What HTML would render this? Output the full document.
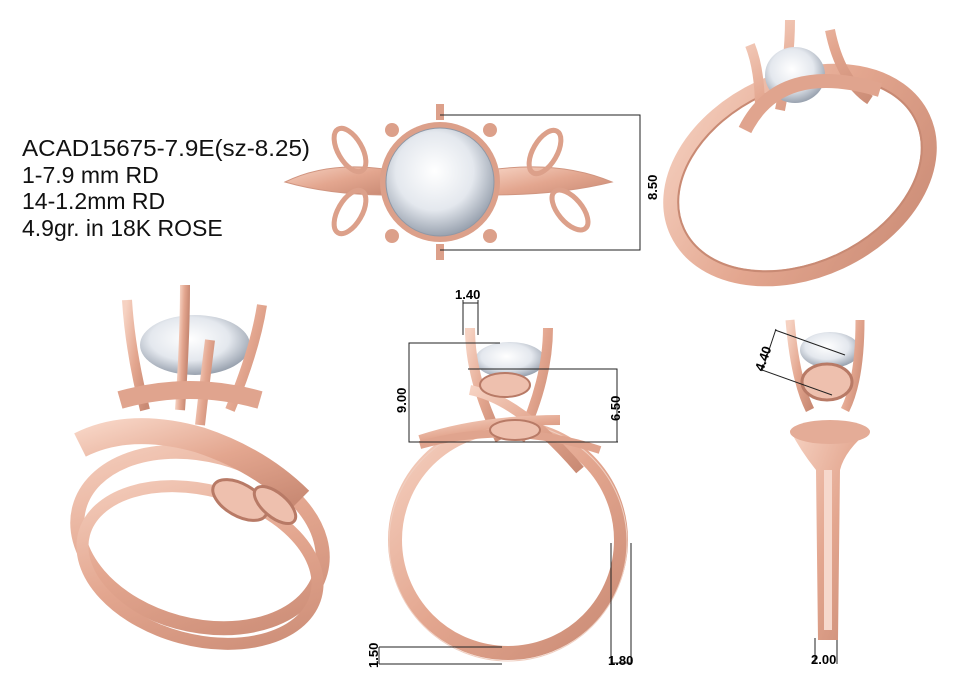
<!DOCTYPE html>
<html><head><meta charset="utf-8"><style>
html,body{margin:0;padding:0;background:#fff;}
svg{display:block}
text{font-family:"Liberation Sans",sans-serif;}
</style></head><body>
<svg width="962" height="689" viewBox="0 0 962 689" xmlns="http://www.w3.org/2000/svg">
<defs>
<linearGradient id="g" x1="0" y1="0" x2="1" y2="1">
<stop offset="0" stop-color="#f6d2c2"/><stop offset="0.5" stop-color="#e3a68f"/><stop offset="1" stop-color="#c98a74"/>
</linearGradient>
<radialGradient id="d" cx="0.45" cy="0.4" r="0.6">
<stop offset="0" stop-color="#ffffff"/><stop offset="0.6" stop-color="#e4e8ee"/><stop offset="1" stop-color="#9aa3b0"/>
</radialGradient>
</defs>
<!-- text -->
<g font-size="23" fill="#111">
<text x="22" y="156" textLength="288" lengthAdjust="spacingAndGlyphs">ACAD15675-7.9E(sz-8.25)</text>
<text x="22" y="183">1-7.9 mm RD</text>
<text x="22" y="209">14-1.2mm RD</text>
<text x="22" y="236">4.9gr. in 18K ROSE</text>
</g>

<!-- top center ring -->
<path d="M285 182 Q330 160 390 170 L390 195 Q330 195 285 182Z" fill="url(#g)" stroke="#d09580"/>
<path d="M612 182 Q560 160 490 170 L490 195 Q560 195 612 182Z" fill="url(#g)" stroke="#d09580"/>
<ellipse cx="350" cy="150" rx="12" ry="24" transform="rotate(-30 350 150)" fill="none" stroke="#dca08a" stroke-width="5"/>
<ellipse cx="350" cy="212" rx="12" ry="24" transform="rotate(30 350 212)" fill="none" stroke="#dca08a" stroke-width="5"/>
<ellipse cx="545" cy="152" rx="12" ry="24" transform="rotate(30 545 152)" fill="none" stroke="#dca08a" stroke-width="5"/>
<ellipse cx="570" cy="210" rx="12" ry="24" transform="rotate(-40 570 210)" fill="none" stroke="#dca08a" stroke-width="5"/>
<circle cx="440" cy="182" r="60" fill="#dca08a"/>
<circle cx="440" cy="182" r="54" fill="url(#d)" stroke="#8f98a6"/>
<g fill="#dca08a"><circle cx="392" cy="130" r="7"/><circle cx="490" cy="130" r="7"/><circle cx="392" cy="236" r="7"/><circle cx="490" cy="236" r="7"/>
<rect x="436" y="104" width="8" height="16"/><rect x="436" y="244" width="8" height="16"/></g>
<g stroke="#222" stroke-width="1" fill="none">
<path d="M440 115 H640 V250 H440"/>
</g>
<text transform="translate(657 200) rotate(-90)" font-size="13" font-weight="bold">8.50</text>

<!-- top right ring -->
<ellipse cx="800" cy="175" rx="135" ry="95" transform="rotate(-25 800 175)" fill="none" stroke="url(#g)" stroke-width="16"/>
<ellipse cx="800" cy="175" rx="128" ry="88" transform="rotate(-25 800 175)" fill="none" stroke="#c88a74" stroke-width="2"/>
<path d="M750 45 Q760 70 760 110 M790 20 Q790 60 780 110 M830 30 Q840 80 870 100" stroke="url(#g)" stroke-width="10" fill="none"/>
<ellipse cx="795" cy="75" rx="30" ry="28" fill="url(#d)"/>
<path d="M745 130 Q780 60 880 90" stroke="#e0a48e" stroke-width="14" fill="none"/>

<!-- bottom left ring -->
<ellipse cx="200" cy="540" rx="125" ry="85" transform="rotate(15 200 540)" fill="none" stroke="url(#g)" stroke-width="14"/>
<ellipse cx="200" cy="565" rx="120" ry="75" transform="rotate(15 200 565)" fill="none" stroke="url(#g)" stroke-width="12"/>
<path d="M80 445 Q130 420 200 440 Q260 460 300 500" stroke="url(#g)" stroke-width="26" fill="none"/>
<ellipse cx="240" cy="500" rx="30" ry="16" transform="rotate(30 240 500)" fill="#eec0ae" stroke="#b87a66" stroke-width="3"/>
<ellipse cx="275" cy="505" rx="25" ry="12" transform="rotate(40 275 505)" fill="#eec0ae" stroke="#b87a66" stroke-width="3"/>
<ellipse cx="195" cy="345" rx="55" ry="30" fill="url(#d)"/>
<g stroke="url(#g)" stroke-width="10" fill="none">
<path d="M127 300 Q130 350 145 410"/><path d="M185 285 Q185 340 180 410"/><path d="M262 305 Q255 350 230 410"/><path d="M210 340 Q205 380 200 425"/>
</g>
<path d="M120 400 Q190 380 260 400" stroke="#e0a48e" stroke-width="18" fill="none"/>

<!-- bottom center ring -->
<circle cx="508" cy="540" r="113" fill="none" stroke="url(#g)" stroke-width="14"/>
<circle cx="508" cy="542" r="119" fill="none" stroke="#f0cfc1" stroke-width="1"/>
<ellipse cx="510" cy="360" rx="35" ry="18" fill="url(#d)"/>
<g stroke="url(#g)" stroke-width="10" fill="none">
<path d="M470 328 Q470 380 500 440"/><path d="M548 328 Q548 380 520 440"/>
<path d="M470 390 Q520 400 580 470"/><path d="M420 440 Q480 420 560 420"/>
</g>
<path d="M420 445 Q510 420 600 450" stroke="#e0a48e" stroke-width="8" fill="none"/>
<ellipse cx="505" cy="385" rx="25" ry="12" fill="#eec0ae" stroke="#b87a66" stroke-width="2"/>
<ellipse cx="515" cy="430" rx="25" ry="10" fill="#eec0ae" stroke="#b87a66" stroke-width="2"/>
<g stroke="#222" stroke-width="1" fill="none">
<path d="M463 335 V300 M478 335 V300 M463 303 H478"/>
<path d="M500 343 H409 V442 H618"/>
<path d="M468 369 H617 V442"/>
<path d="M379 647 H502 M379 664 H502 M379 647 V664"/>
<path d="M611 543 V664 M631 543 V664 M611 663 H631"/>
<path d="M815 638 V664 M837 638 V664"/>
</g>
<text x="455" y="299" font-size="13" font-weight="bold">1.40</text>
<text transform="translate(406 413) rotate(-90)" font-size="13" font-weight="bold">9.00</text>
<text transform="translate(620 421) rotate(-90)" font-size="13" font-weight="bold">6.50</text>
<text transform="translate(378 668) rotate(-90)" font-size="13" font-weight="bold">1.50</text>
<text x="608" y="665" font-size="13" font-weight="bold">1.80</text>
<text x="811" y="664" font-size="13" font-weight="bold">2.00</text>

<!-- bottom right side view -->
<path d="M818 640 L816 470 Q800 450 790 430 L870 430 Q845 450 840 470 L838 640Z" fill="url(#g)"/>
<rect x="824" y="470" width="8" height="160" fill="#f6d8cc"/>
<ellipse cx="830" cy="350" rx="30" ry="18" fill="url(#d)"/>
<g stroke="url(#g)" stroke-width="9" fill="none"><path d="M790 320 Q795 380 810 410"/><path d="M860 320 Q860 380 845 410"/></g>
<ellipse cx="827" cy="382" rx="25" ry="18" fill="#eec0ae" stroke="#b87a66" stroke-width="3"/>
<ellipse cx="830" cy="432" rx="40" ry="12" fill="#e4ac97"/>
<g stroke="#222" stroke-width="1" fill="none"><path d="M775 330 L845 355 M762 370 L832 395 M776 329 L762 371"/></g>
<text transform="translate(763 372) rotate(-70)" font-size="13" font-weight="bold">4.40</text>
</svg>
</body></html>
